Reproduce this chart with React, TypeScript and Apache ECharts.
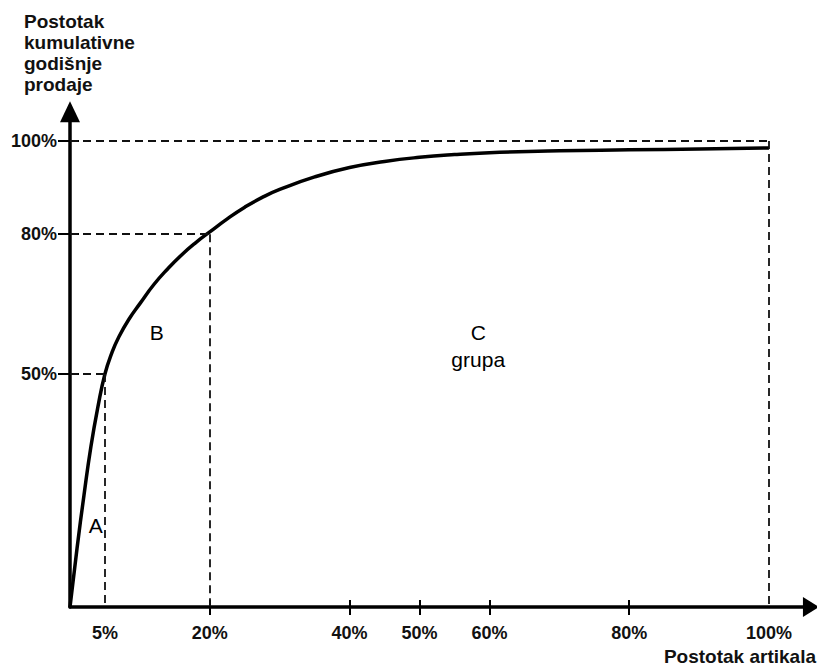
import React, { useEffect, useRef } from "react";
import * as echarts from "echarts";

// Cumulative curve (x: % of items, y: % of cumulative yearly sales)
const curveX = [0, 1, 2, 3, 4, 5, 6, 7, 8.5, 10, 12, 14, 16, 18, 20, 22.5, 25, 27.5, 30, 35, 40, 45, 50, 55, 60, 70, 80, 90, 100];
const curveY = [0, 12.5, 24, 34.5, 43, 50, 54.6, 58, 61.9, 65.1, 69.2, 72.6, 75.6, 78.2, 80.5, 83.3, 85.8, 87.9, 89.6, 92.3, 94.3, 95.6, 96.5, 97.1, 97.5, 97.9, 98.1, 98.3, 98.5];

// Axis labels / ticks
const xLabelValues = [5, 20, 40, 50, 60, 80, 100];
const xTickValues = [20, 40, 50, 60, 80];
const yLabelValues = [50, 80, 100];

// Dashed guide lines (pairs)
const guideX = [5, 20, 100];
const guideY = [50, 80, 100];

// Texts
const yTitle = ["Postotak", "kumulativne", "godišnje", "prodaje"];
const xTitle = "Postotak artikala";
const regionNames = ["A", "B", "C\ngrupa"];
const regionX = [3.7, 12.4, 58.4];
const regionY = [17.5, 58.8, 56.0];

const FONT = '"Liberation Sans", Arial, sans-serif';
const X_MAX = 106;
const Y_MAX = 106.3;
const PX_X = 6.99;
const PX_Y = 4.66;
const AXIS_Y = 607;

export default function App() {
  const ref = useRef<HTMLDivElement>(null);

  useEffect(() => {
    if (!ref.current) return;
    const chart = echarts.init(ref.current, undefined, { renderer: "svg" });

    const curveData = curveX.map((x, i) => [x, curveY[i]]);
    const guideData: any[] = [];
    guideX.forEach((gx, i) => {
      const gy = guideY[i];
      guideData.push([{ coord: [0, gy] }, { coord: [gx, gy] }]);
      guideData.push([{ coord: [gx, gy] }, { coord: [gx, 0] }]);
    });

    const pct = (v: number) => v + "%";

    chart.setOption({
      animation: false,
      backgroundColor: "#ffffff",
      textStyle: { fontFamily: FONT },
      title: {
        text: yTitle.join("\n"),
        left: 24,
        top: 11,
        padding: 0,
        textStyle: {
          fontFamily: FONT,
          fontSize: 19,
          fontWeight: "bold",
          lineHeight: 21,
          color: "#111",
        },
      },
      graphic: [
        {
          type: "text",
          right: 1,
          bottom: 1,
          style: {
            text: xTitle,
            fontFamily: FONT,
            fontSize: 19,
            fontWeight: "bold",
            fill: "#111",
          },
        },
      ],
      grid: {
        left: 70,
        top: AXIS_Y - Y_MAX * PX_Y,
        width: X_MAX * PX_X,
        height: Y_MAX * PX_Y,
        containLabel: false,
      },
      xAxis: [
        {
          type: "value",
          min: 0,
          max: X_MAX,
          position: "bottom",
          axisLine: {
            show: true,
            onZero: false,
            symbol: ["none", "triangle"],
            symbolSize: [20, 16],
            lineStyle: { color: "#000", width: 3.5 },
          },
          axisTick: {
            show: true,
            customValues: xTickValues,
            length: 8,
            inside: false,
            lineStyle: { color: "#000", width: 2 },
          },
          axisLabel: {
            show: true,
            customValues: xLabelValues,
            formatter: pct,
            margin: 17,
            color: "#111",
            fontSize: 18,
            fontWeight: "bold",
            fontFamily: FONT,
          },
          splitLine: { show: false },
        },
        {
          type: "value",
          min: 0,
          max: X_MAX,
          position: "bottom",
          axisLine: { show: false, onZero: false },
          axisTick: {
            show: true,
            customValues: xTickValues,
            length: 7,
            inside: true,
            lineStyle: { color: "#000", width: 2 },
          },
          axisLabel: { show: false },
          splitLine: { show: false },
        },
      ],
      yAxis: [
        {
          type: "value",
          min: 0,
          max: Y_MAX,
          position: "left",
          axisLine: {
            show: true,
            onZero: false,
            symbol: ["none", "triangle"],
            symbolSize: [20, 21],
            lineStyle: { color: "#000", width: 3.5 },
          },
          axisTick: {
            show: true,
            customValues: yLabelValues,
            length: 12,
            inside: false,
            lineStyle: { color: "#000", width: 2 },
          },
          axisLabel: {
            show: true,
            customValues: yLabelValues,
            formatter: pct,
            margin: 13,
            color: "#111",
            fontSize: 18,
            fontWeight: "bold",
            fontFamily: FONT,
          },
          splitLine: { show: false },
        },
        {
          type: "value",
          min: 0,
          max: Y_MAX,
          position: "left",
          axisLine: { show: false, onZero: false },
          axisTick: {
            show: true,
            customValues: yLabelValues,
            length: 9,
            inside: true,
            lineStyle: { color: "#000", width: 2 },
          },
          axisLabel: { show: false },
          splitLine: { show: false },
        },
      ],
      series: [
        {
          type: "line",
          xAxisIndex: 0,
          yAxisIndex: 0,
          data: curveData,
          smooth: 0.5,
          symbol: "none",
          clip: false,
          silent: true,
          z: 3,
          lineStyle: { color: "#000", width: 3.5 },
          markLine: {
            silent: true,
            symbol: ["none", "none"],
            label: { show: false },
            emphasis: { disabled: true },
            lineStyle: { color: "#111", width: 1.8, type: [8, 5] },
            data: guideData,
          },
        },
        {
          type: "scatter",
          xAxisIndex: 0,
          yAxisIndex: 0,
          silent: true,
          symbolSize: 0,
          itemStyle: { color: "#000", opacity: 1 },
          z: 4,
          label: {
            show: true,
            position: "inside",
            formatter: "{b}",
            color: "#000",
            opacity: 1,
            fontSize: 21,
            lineHeight: 27,
            fontFamily: FONT,
          },
          data: regionNames.map((n, i) => ({ name: n, value: [regionX[i], regionY[i]] })),
        },
      ],
    });

    return () => {
      chart.dispose();
    };
  }, []);

  return (
    <div
      ref={ref}
      style={{ position: "fixed", left: 0, top: 0, width: 817, height: 667, background: "#fff" }}
    />
  );
}
